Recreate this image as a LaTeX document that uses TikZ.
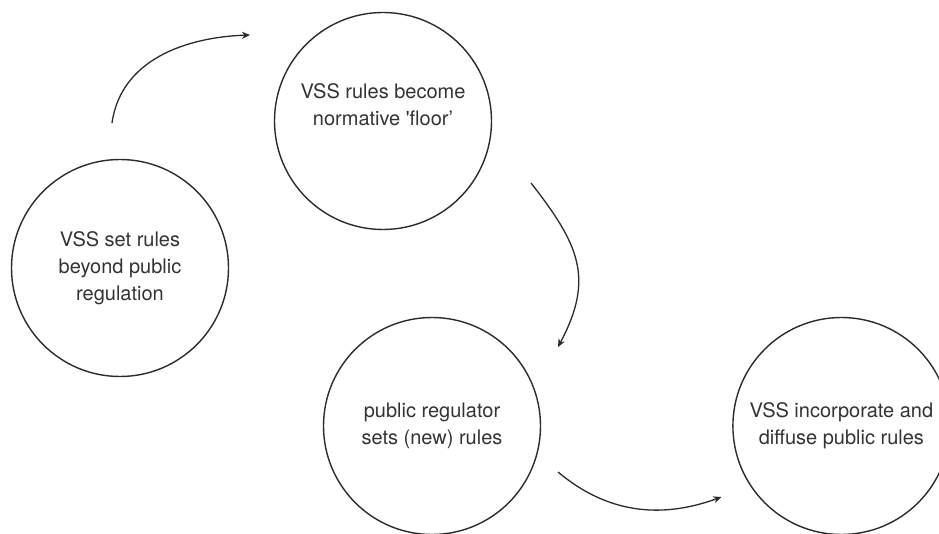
\documentclass[tikz,border=0pt]{standalone}
\usepackage{fontspec}
\setmainfont{TeX Gyre Heros}
\usetikzlibrary{arrows.meta, positioning}
\definecolor{inkgray}{HTML}{2B2B2B}
\definecolor{textgray}{HTML}{333333}

\begin{document}
\begin{tikzpicture}[
  x=1pt, y=1pt,
  stagecircle/.style={circle, draw=inkgray, line width=1.4pt, minimum size=217pt, inner sep=0pt, align=center, text=textgray, font=\fontsize{20}{27}\selectfont},
  cyclearrow/.style={-{Stealth[length=8pt, width=7pt, inset=2.5pt]}, line width=1.3pt, draw=inkgray}
]
  \useasboundingbox (0,0) rectangle (939,533);

  % Stages of the cycle
  \node[stagecircle] (vssset) at (120,265) {VSS set rules\\beyond public\\regulation};
  \node[stagecircle] (floor) at (383,412) {VSS rules become\\normative \textquotesingle floor'\\[6pt]};
  \node[stagecircle] (regulator) at (432,107) {public regulator\\sets (new) rules};
  \node[stagecircle, right=191pt of regulator] (diffuse) {VSS incorporate and\\diffuse public rules};

  % Connections
  \draw[cyclearrow] ([shift={(-8,145)}]vssset.center) to[out=82, in=182] ([shift={(-133,86)}]floor.center);
  \draw[cyclearrow] ([shift={(148,-62)}]floor.center) to[out=-52, in=62, looseness=1.2] ([shift={(126,79)}]regulator.center);
  \draw[cyclearrow] ([shift={(126,-46)}]regulator.center) to[out=-40, in=200] ([shift={(-120,-71)}]diffuse.center);
\end{tikzpicture}
\end{document}
